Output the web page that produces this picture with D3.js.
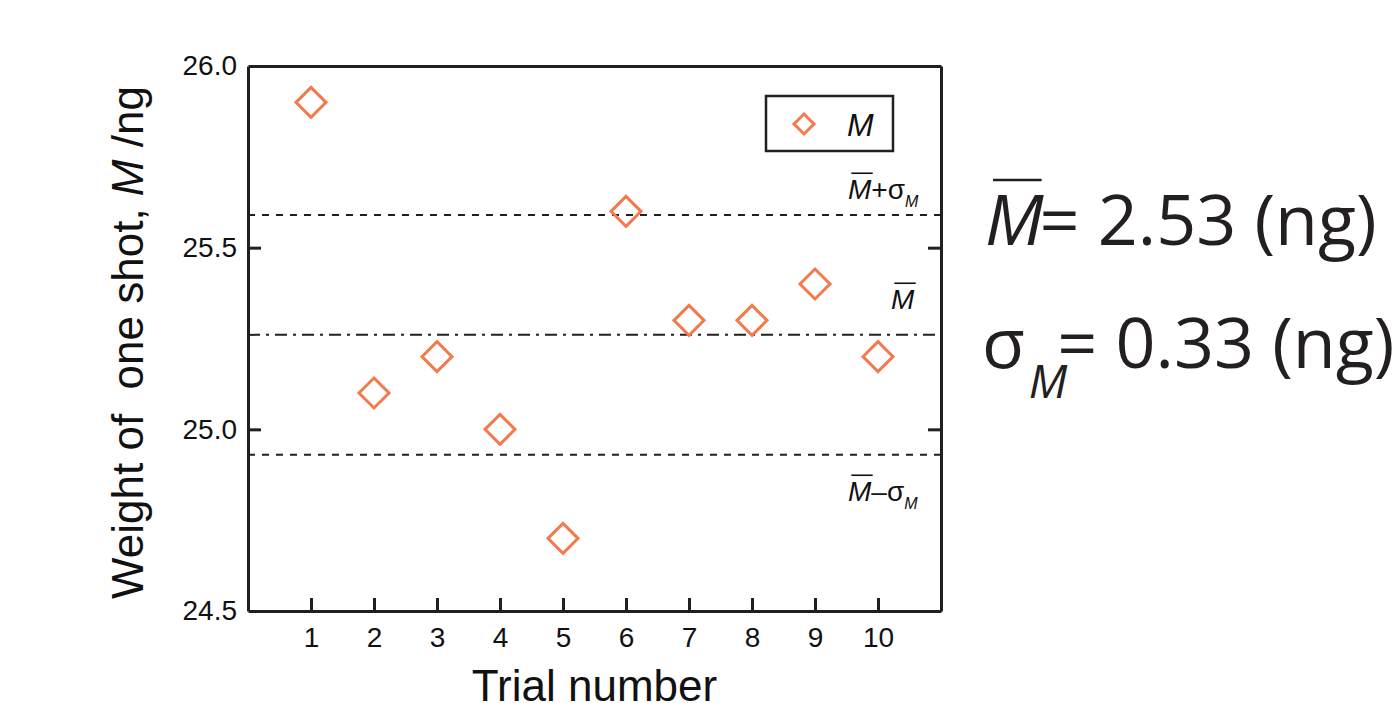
<!DOCTYPE html>
<html>
<head>
<meta charset="utf-8">
<script src="https://cdn.jsdelivr.net/npm/d3@7"></script>
<style>
body{margin:0;background:#fff;}
</style>
</head>
<body>
<script>
// trial data
var trials = [1,2,3,4,5,6,7,8,9,10];
var weights = [25.9,25.1,25.2,25.0,24.7,25.6,25.3,25.3,25.4,25.2];
var yTicks = [24.5,25.0,25.5,26.0];
var meanM = 25.26;
var sigmaM = 0.33;
var meanText = "2.53";

var W = 1400, H = 703;
// plot frame (don't call it "top", that's window.top)
var pL = 248, pR = 941, pT = 66, pB = 611;
var ink = "#231f20", orange = "#f27a4c";
var sans = "Liberation Sans, Arial, sans-serif";

var svg = d3.select("body").append("svg")
	.attr("width", W)
	.attr("height", H)
	.style("font-family", sans);

var x = d3.scaleLinear().domain([0, 11]).range([pL, pR]);
var y = d3.scaleLinear().domain([24.5, 26.0]).range([pB, pT]);

// reference lines
var refs = [
	{v: meanM + sigmaM, dash: "7,7"},
	{v: meanM, dash: "12,6,3,6"},
	{v: meanM - sigmaM, dash: "7,7"}
];
svg.selectAll("line.ref").data(refs).enter().append("line")
	.attr("class", "ref")
	.attr("x1", pL).attr("x2", pR)
	.attr("y1", function(d){ return y(d.v); })
	.attr("y2", function(d){ return y(d.v); })
	.attr("stroke", ink)
	.attr("stroke-width", 2)
	.attr("stroke-dasharray", function(d){ return d.dash; });

// axes, ticks pointing inward
var yl = svg.append("g").attr("transform", "translate(" + pL + ",0)")
	.call(d3.axisLeft(y).tickValues(yTicks).tickFormat(d3.format(".1f")).tickSizeInner(-13).tickSizeOuter(0).tickPadding(11));
var yr = svg.append("g").attr("transform", "translate(" + pR + ",0)")
	.call(d3.axisRight(y).tickValues(yTicks).tickFormat("").tickSizeInner(-13).tickSizeOuter(0));
var xb = svg.append("g").attr("transform", "translate(0," + pB + ")")
	.call(d3.axisBottom(x).tickValues(trials).tickSizeInner(-13).tickSizeOuter(0).tickPadding(16));
var xt = svg.append("g").attr("transform", "translate(0," + pT + ")")
	.call(d3.axisTop(x).tickValues([]).tickSizeOuter(0));

[yl, yr, xb, xt].forEach(function(g){
	g.attr("font-size", 28).attr("font-family", sans);
	g.select(".domain").attr("stroke", ink).attr("stroke-width", 3);
	g.selectAll(".tick line").attr("stroke", ink).attr("stroke-width", 3);
	g.selectAll(".tick text").attr("fill", "#111");
});
// end ticks sit on the frame, drop them
yl.selectAll(".tick").filter(function(d){ return d == 24.5 || d == 26.0; }).select("line").remove();
yr.selectAll(".tick").filter(function(d){ return d == 24.5 || d == 26.0; }).select("line").remove();

// diamond markers
var diamond = function(r){
	return "M0," + (-r) + "L" + r + ",0L0," + r + "L" + (-r) + ",0Z";
};
svg.selectAll("path.pt").data(trials).enter().append("path")
	.attr("class", "pt")
	.attr("d", diamond(15))
	.attr("transform", function(d, i){ return "translate(" + x(d) + "," + y(weights[i]) + ")"; })
	.attr("fill", "none")
	.attr("stroke", orange)
	.attr("stroke-width", 3);

// legend
svg.append("rect")
	.attr("x", 766).attr("y", 96).attr("width", 127).attr("height", 55)
	.attr("fill", "#fff").attr("stroke", ink).attr("stroke-width", 2.5);
svg.append("path")
	.attr("d", diamond(10))
	.attr("transform", "translate(804,124)")
	.attr("fill", "none").attr("stroke", orange).attr("stroke-width", 3);
svg.append("text")
	.attr("x", 847).attr("y", 136)
	.attr("font-size", 32).attr("font-style", "italic").attr("fill", "#111")
	.text("M");

// labels on the reference lines (M with a bar over it)
var barLabel = function(xp, yp, size, suffix, subSize){
	var t = svg.append("text").attr("x", xp).attr("y", yp).attr("font-size", size).attr("fill", "#111");
	t.append("tspan").attr("font-style", "italic").text("M");
	if(suffix){
		t.append("tspan").text(suffix);
		t.append("tspan").attr("font-size", subSize).attr("font-style", "italic").attr("dy", size * 0.3).text("M");
	}
	var mw = t.select("tspan").node().getComputedTextLength();
	svg.append("line")
		.attr("x1", xp + size * 0.12).attr("x2", xp + mw + size * 0.05)
		.attr("y1", yp - size * 0.92).attr("y2", yp - size * 0.92)
		.attr("stroke", "#111").attr("stroke-width", 1.6);
	return t;
};
barLabel(848, 199, 28, "+σ", 16);
barLabel(891, 309, 28, null, 16);
barLabel(848, 501, 28, "–σ", 16);

// axis titles
svg.append("text")
	.attr("x", (pL + pR) / 2) .attr("y", 701)
	.attr("text-anchor", "middle").attr("font-size", 44).attr("fill", "#111")
	.text("Trial number");
svg.append("text")
	.attr("transform", "translate(143," + ((pT + pB) / 2 + 4) + ") rotate(-90)")
	.attr("text-anchor", "middle").attr("font-size", 44).attr("fill", "#111")
	.html('Weight of&#160; one shot, <tspan font-style="italic">M</tspan> /ng');

// summary text on the right
var big = 70;
var t1 = svg.append("text").attr("x", 985).attr("y", 245).attr("font-size", big)
	.style("font-family", "Open Sans, sans-serif").attr("fill", ink);
t1.append("tspan").attr("font-style", "italic").text("M");
t1.append("tspan").attr("dx", -4).text("= " + meanText + " (ng)");
var mw1 = t1.select("tspan").node().getComputedTextLength();
svg.append("line")
	.attr("x1", 993).attr("x2", 985 + mw1 - 2)
	.attr("y1", 180).attr("y2", 180)
	.attr("stroke", ink).attr("stroke-width", 2.5);

var t2 = svg.append("text").attr("x", 982).attr("y", 368).attr("font-size", big)
	.style("font-family", "Open Sans, sans-serif").attr("fill", ink);
t2.append("tspan").text("σ");
t2.append("tspan").attr("font-style", "italic").attr("font-size", 46).attr("dy", 30).attr("dx", 4).text("M");
t2.append("tspan").attr("dy", -30).attr("dx", -10).text("= " + sigmaM.toFixed(2) + " (ng)");
</script>
</body>
</html>
